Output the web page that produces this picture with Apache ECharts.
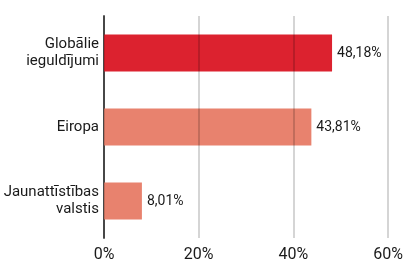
<!DOCTYPE html>
<html>
<head>
<meta charset="utf-8">
<script src="https://cdn.jsdelivr.net/npm/echarts@6/dist/echarts.min.js"></script>
<style>
  html, body { margin: 0; padding: 0; background: #fff; }
  #chart { width: 406px; height: 263px; }
</style>
</head>
<body>
<div id="chart"></div>
<script>
  // categories from top to bottom
  const categories = ['Globālie\nieguldījumi', 'Eiropa', 'Jaunattīstības\nvalstis']
  const shares = [48.18, 43.81, 8.01]
  const barColors = ['#dc222f', '#e8826e', '#e8826e']
  const tickValues = [0, 20, 40, 60]

  const chart = echarts.init(document.getElementById('chart'))

  chart.setOption({
    animation: false,
    textStyle: { fontFamily: 'Roboto' },
    grid: { left: 104, right: 18, top: 16, bottom: 18, containLabel: false },
    xAxis: {
      type: 'value',
      min: tickValues[0],
      max: tickValues[tickValues.length - 1],
      interval: 20,
      z: 5,
      axisLine: { show: false },
      axisTick: { show: false },
      splitLine: {
        show: true,
        lineStyle: { color: 'rgba(0,0,0,0.22)', width: 1.5 }
      },
      axisLabel: {
        color: '#1a1a1a',
        fontSize: 16,
        margin: 9,
        formatter: v => v + '%',
        showMinLabel: true,
        showMaxLabel: true
      }
    },
    yAxis: {
      type: 'category',
      inverse: true,
      data: categories,
      axisLine: { show: true, lineStyle: { color: '#555', width: 2 } },
      axisTick: { show: false },
      axisLabel: {
        color: '#1a1a1a',
        fontSize: 15,
        lineHeight: 17,
        align: 'right',
        margin: 5
      }
    },
    series: [{
      type: 'bar',
      barWidth: 37,
      data: shares.map((v, i) => ({ value: v, itemStyle: { color: barColors[i] } })),
      label: {
        show: true,
        position: 'right',
        distance: 5,
        color: '#1a1a1a',
        fontSize: 14,
        formatter: p => p.value.toFixed(2).replace('.', ',') + '%'
      }
    }]
  })
</script>
</body>
</html>
